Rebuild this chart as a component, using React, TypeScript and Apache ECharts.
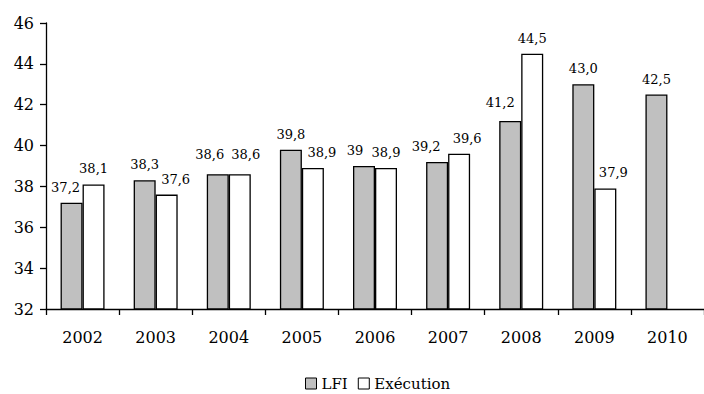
import React, { useEffect, useRef } from "react";
import * as echarts from "echarts";

const years = ["2002", "2003", "2004", "2005", "2006", "2007", "2008", "2009", "2010"];
const lfi = [37.2, 38.3, 38.6, 39.8, 39, 39.2, 41.2, 43.0, 42.5];
const execution: (number | null)[] = [38.1, 37.6, 38.6, 38.9, 38.9, 39.6, 44.5, 37.9, null];
const lfiLabels = ["37,2", "38,3", "38,6", "39,8", "39", "39,2", "41,2", "43,0", "42,5"];
const executionLabels = ["38,1", "37,6", "38,6", "38,9", "38,9", "39,6", "44,5", "37,9", ""];

// label nudges so neighbouring value labels don't collide
const lfiLabelOffsets = [[-6, 0], [0, 0], [-8, -4], [0, 0], [-9, 0], [-11, 0], [-10, -3], [0, 0], [0, 0]];
const execLabelOffsets = [[0, 0], [9, 0], [6, -4], [9, 0], [0, 0], [8, 0], [0, 0], [8, 0], [0, 0]];

const FONT = "DejaVu Serif";

export default function App() {
  const ref = useRef<HTMLDivElement>(null);

  useEffect(() => {
    if (!ref.current) return;
    const chart = echarts.init(ref.current, null, { renderer: "svg" });

    const build = (vals: (number | null)[], labels: string[], offs: number[][]) =>
      vals.map((v, i) => ({
        value: v,
        label: { formatter: labels[i], offset: offs[i] },
      }));

    const barStyle = (color: string) => ({
      color,
      borderColor: "#000",
      borderWidth: 1.3,
    });

    const labelStyle = {
      show: true,
      position: "top" as const,
      distance: 9,
      fontFamily: FONT,
      fontSize: 13,
      color: "#000",
    };

    chart.setOption({
      animation: false,
      backgroundColor: "#fff",
      textStyle: { fontFamily: FONT },
      grid: { left: 46, top: 23, bottom: 85, width: 667, containLabel: false },
      legend: {
        left: 300,
        top: 371,
        itemWidth: 11,
        itemHeight: 11,
        itemGap: 10,
        textStyle: { fontFamily: FONT, fontSize: 15, color: "#000" },
        data: [
          { name: "LFI", icon: "rect", itemStyle: { color: "#c0c0c0", borderColor: "#000", borderWidth: 1 } },
          { name: "Exécution", icon: "rect", itemStyle: { color: "#fff", borderColor: "#000", borderWidth: 1 } },
        ],
      },
      xAxis: {
        type: "category",
        data: years,
        axisLine: { lineStyle: { color: "#000", width: 1.3 } },
        axisTick: { show: true, length: 6, lineStyle: { color: "#000", width: 1.3 } },
        axisLabel: { fontFamily: FONT, fontSize: 16, color: "#000", margin: 20 },
      },
      yAxis: {
        type: "value",
        min: 32,
        max: 46,
        interval: 2,
        axisLine: { show: true, lineStyle: { color: "#000", width: 1.3 } },
        axisTick: { show: true, length: 6, lineStyle: { color: "#000", width: 1.3 } },
        splitLine: { show: false },
        axisLabel: { fontFamily: FONT, fontSize: 16, color: "#000", margin: 12 },
      },
      series: [
        {
          name: "LFI",
          type: "bar",
          barWidth: 22,
          barGap: "0%",
          itemStyle: barStyle("#c0c0c0"),
          label: labelStyle,
          data: build(lfi, lfiLabels, lfiLabelOffsets),
        },
        {
          name: "Exécution",
          type: "bar",
          barWidth: 22,
          barGap: "0%",
          itemStyle: barStyle("#ffffff"),
          label: labelStyle,
          data: build(execution, executionLabels, execLabelOffsets),
        },
      ],
    });

    return () => chart.dispose();
  }, []);

  return (
    <div
      ref={ref}
      style={{ position: "fixed", left: 0, top: 0, width: 704, height: 394, background: "#fff" }}
    />
  );
}
